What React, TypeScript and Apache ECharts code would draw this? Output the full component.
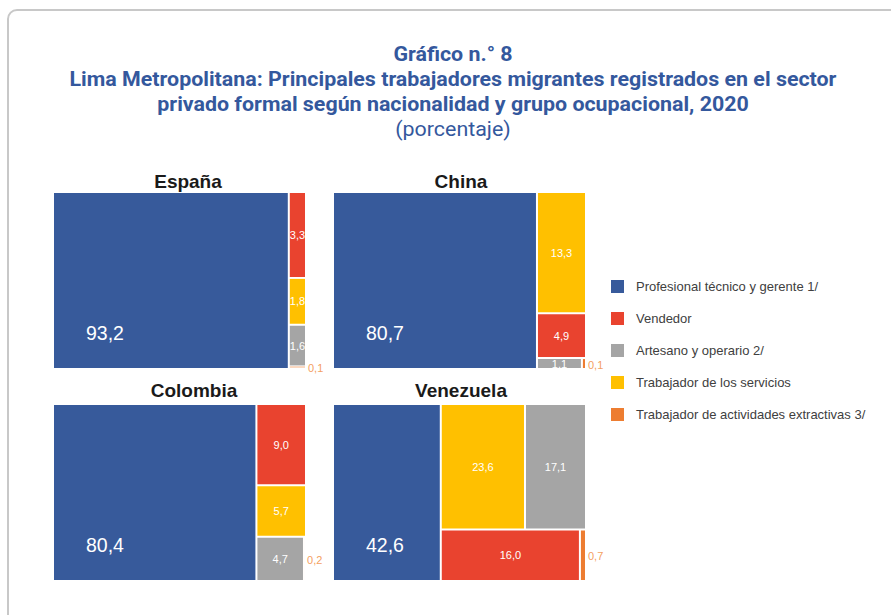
import React, { useEffect, useRef } from 'react';
import * as echarts from 'echarts';

const categories = [
  'Profesional técnico y gerente 1/',
  'Vendedor',
  'Artesano y operario 2/',
  'Trabajador de los servicios',
  'Trabajador de actividades extractivas 3/',
];
const countries = ['España', 'China', 'Colombia', 'Venezuela'];
const espana = [93.2, 3.3, 1.6, 1.8, 0.1];
const china = [80.7, 4.9, 1.1, 13.3, 0.1];
const colombia = [80.4, 9.0, 4.7, 5.7, 0.2];
const venezuela = [42.6, 16.0, 17.1, 23.6, 0.7];
const titleLines = [
  'Gráfico n.° 8',
  'Lima Metropolitana: Principales trabajadores migrantes registrados en el sector',
  'privado formal según nacionalidad y grupo ocupacional, 2020',
  '(porcentaje)',
];

const colors = ['#375a9b', '#e9432f', '#a5a5a5', '#ffc000', '#ed7d31'];

export default function App() {
  const ref = useRef<HTMLDivElement>(null);
  useEffect(() => {
    const chart = echarts.init(ref.current!, null, { renderer: 'svg' });
    const fmt = (v: number) => v.toFixed(1).replace('.', ',');
    const countryValues = [espana, china, colombia, venezuela];
    const panels = [
      { left: 54, top: 193, tx: 188, ty: 181 },
      { left: 334, top: 193, tx: 461, ty: 181 },
      { left: 54, top: 405, tx: 194, ty: 390 },
      { left: 334, top: 405, tx: 461, ty: 390 },
    ];
    const labelFor = (i: number, v: number) => {
      if (i === 0)
        return { position: [32, '80%'], align: 'left', verticalAlign: 'middle', fontSize: 19.5, color: '#fff' };
      if (v < 1)
        return { position: 'right', distance: 3, offset: [0, 1], fontSize: 11, color: '#f4a062' };
      return { position: 'inside', fontSize: 11, color: '#fff' };
    };
    const treemaps: any[] = countryValues.map((vals, ci) => ({
      type: 'treemap',
      name: countries[ci],
      left: panels[ci].left,
      top: panels[ci].top,
      width: 251,
      height: 175,
      roam: false,
      nodeClick: false,
      silent: true,
      breadcrumb: { show: false },
      squareRatio: 1.15,
      visibleMin: 0,
      sort: 'desc',
      itemStyle: { borderWidth: 0, gapWidth: 2, borderColor: '#fff' },
      levels: [{ itemStyle: { borderWidth: 0, gapWidth: 2, borderColor: '#fff' } }],
      label: {
        show: true,
        formatter: (p: any) => fmt(p.value),
        overflow: 'none',
        padding: [-40, 0, -40, 0],
        fontFamily: 'Liberation Sans',
      },
      data: categories.map((c, i) => ({
        name: c,
        value: vals[i],
        itemStyle: { color: colors[i] },
        label: labelFor(i, vals[i]),
      })),
    }));
    const legendSeries = categories.map((c, i) => ({
      type: 'bar',
      name: c,
      data: [],
      itemStyle: { color: colors[i] },
    }));
    const titleFont = 'Roboto';
    const graphic: any[] = [
      {
        type: 'rect',
        shape: { x: 8, y: 10, width: 1000, height: 1000, r: 9 },
        style: { fill: 'none', stroke: '#c8c8c8', lineWidth: 2 },
        silent: true,
      },
      ...titleLines.map((t, i) => ({
        type: 'text',
        x: 453,
        y: 54 + i * 25,
        scaleX: 1.07,
        style: {
          text: t,
          align: 'center',
          verticalAlign: 'middle',
          fill: '#34589d',
          font: `${i === 3 ? 'normal' : 'bold'} 20px ${titleFont}`,
        },
      })),
      ...countries.map((c, i) => ({
        type: 'text',
        x: panels[i].tx,
        y: panels[i].ty,
        style: {
          text: c,
          align: 'center',
          verticalAlign: 'middle',
          fill: '#1a1a1a',
          font: 'bold 19px Liberation Sans',
        },
      })),
    ];
    chart.setOption({
      animation: false,
      grid: { show: false, left: 0, top: 0, width: 1, height: 1 },
      xAxis: { show: false, type: 'category', data: [] },
      yAxis: { show: false, type: 'value' },
      legend: {
        orient: 'vertical',
        left: 611,
        top: 280,
        padding: 0,
        itemWidth: 13,
        itemHeight: 13,
        itemGap: 19,
        icon: 'rect',
        selectedMode: false,
        data: categories,
        textStyle: {
          fontSize: 13,
          lineHeight: 13,
          color: '#404040',
          fontFamily: 'Liberation Sans',
          padding: [0, 0, 0, 7],
        },
      },
      graphic,
      series: [...treemaps, ...legendSeries],
    });
    return () => chart.dispose();
  }, []);
  return <div ref={ref} style={{ position: 'absolute', left: 0, top: 0, width: 891, height: 615 }} />;
}
